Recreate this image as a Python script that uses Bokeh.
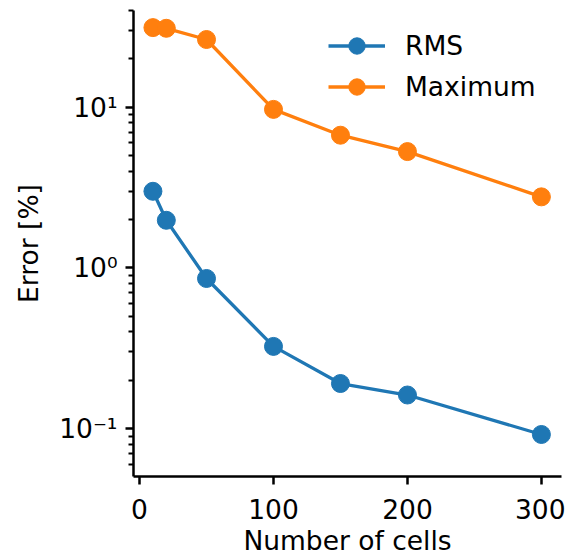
from bokeh.plotting import figure
from bokeh.models import Range1d, FixedTicker, CustomJSTickFormatter, Legend, LegendItem
from bokeh.embed import file_html
from bokeh.resources import INLINE

cells = [10, 20, 50, 100, 150, 200, 300]
rms = [3.0, 1.98, 0.86, 0.325, 0.191, 0.162, 0.092]
maximum = [31.3, 31.0, 26.4, 9.7, 6.7, 5.3, 2.77]
y_major = [0.1, 1, 10]
y_minor = [m * d for d in (0.01, 0.1, 1, 10) for m in range(2, 10)]
x_ticks = [0, 100, 200, 300]

BLUE = "#1f77b4"
ORANGE = "#ff7f0e"
FONT = "DejaVu Sans"
FS = "26.5px"

p = figure(width=565, height=558, y_axis_type="log",
           x_range=Range1d(-4.5, 315), y_range=Range1d(0.0504, 40),
           output_backend="svg", toolbar_location=None,
           min_border_left=133, min_border_right=4, min_border_top=10, min_border_bottom=80)
p.outline_line_color = None
p.xgrid.visible = False
p.ygrid.visible = False
p.background_fill_color = "white"

l1 = p.line(cells, rms, line_color=BLUE, line_width=3.3)
c1 = p.scatter(cells, rms, size=18, fill_color=BLUE, line_color=BLUE)
l2 = p.line(cells, maximum, line_color=ORANGE, line_width=3.3)
c2 = p.scatter(cells, maximum, size=18, fill_color=ORANGE, line_color=ORANGE)

for ax in (p.xaxis[0], p.yaxis[0]):
    ax.axis_line_width = 2.5
    ax.axis_line_color = "black"
    ax.major_tick_line_width = 2.5
    ax.minor_tick_line_width = 2
    ax.major_tick_out = 8
    ax.major_tick_in = 0
    ax.minor_tick_out = 5
    ax.minor_tick_in = 0
    ax.major_label_text_font = FONT
    ax.major_label_text_font_size = FS
    ax.major_label_text_color = "black"
    ax.axis_label_text_font = FONT
    ax.axis_label_text_font_size = FS
    ax.axis_label_text_font_style = "normal"
    ax.axis_label_text_color = "black"

p.xaxis.ticker = FixedTicker(ticks=x_ticks)
p.xaxis.axis_label = "Number of cells"
p.xaxis.major_label_standoff = 14
p.xaxis.axis_label_standoff = 3

p.yaxis.ticker = FixedTicker(ticks=y_major, minor_ticks=y_minor)
p.yaxis.formatter = CustomJSTickFormatter(code="""
const e = Math.round(Math.log10(tick));
const sup = {'-':'\u207b','0':'\u2070','1':'\u00b9','2':'\u00b2','3':'\u00b3','4':'\u2074','5':'\u2075','6':'\u2076','7':'\u2077','8':'\u2078','9':'\u2079'};
return '10' + String(e).split('').map(c => sup[c]).join('');
""")
p.yaxis.axis_label = "Error [%]"
p.yaxis.major_label_standoff = 8
p.yaxis.axis_label_standoff = 12

legend = Legend(items=[LegendItem(label="RMS", renderers=[l1, c1]),
                       LegendItem(label="Maximum", renderers=[l2, c2])],
                location=(195, 369))
legend.border_line_alpha = 0
legend.background_fill_alpha = 0
legend.label_text_font = FONT
legend.label_text_font_size = FS
legend.label_text_color = "black"
legend.glyph_width = 57
legend.glyph_height = 41
legend.spacing = 0
legend.label_standoff = 20
legend.padding = 0
legend.margin = 0
p.add_layout(legend)

open("out.html", "w").write(file_html(p, INLINE))
